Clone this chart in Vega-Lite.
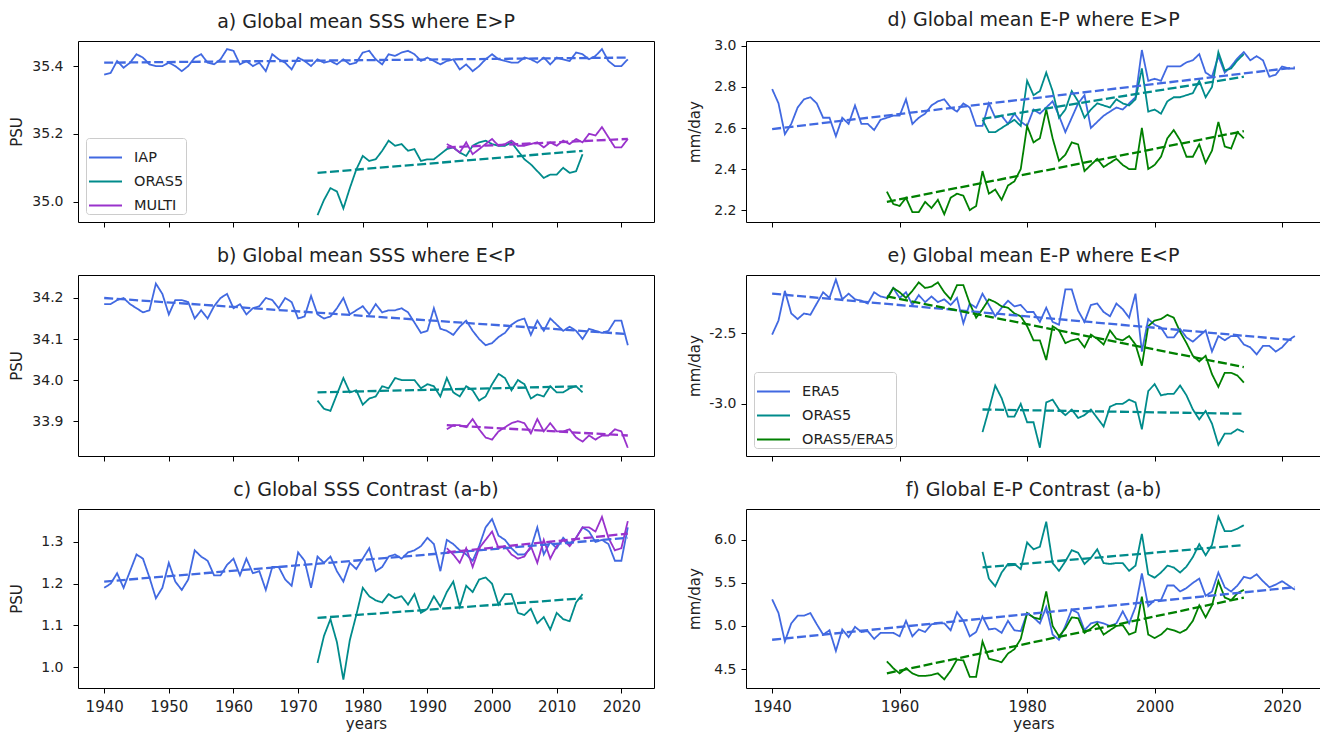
{
"$schema": "https://vega.github.io/schema/vega-lite/v6.json",
"padding": {"left": 8, "top": 10, "right": 0, "bottom": 0},
"background": "white",
"datasets": {
"a": [
{"s":"IAP","k":"o","t":1940,"v":35.375},{"s":"IAP","k":"o","t":1941,"v":35.38},{"s":"IAP","k":"o","t":1942,"v":35.415},{"s":"IAP","k":"o","t":1943,"v":35.395},{"s":"IAP","k":"o","t":1944,"v":35.41},{"s":"IAP","k":"o","t":1945,"v":35.435},{"s":"IAP","k":"o","t":1946,"v":35.425},{"s":"IAP","k":"o","t":1947,"v":35.405},{"s":"IAP","k":"o","t":1948,"v":35.40},{"s":"IAP","k":"o","t":1949,"v":35.40},
{"s":"IAP","k":"o","t":1950,"v":35.41},{"s":"IAP","k":"o","t":1951,"v":35.40},{"s":"IAP","k":"o","t":1952,"v":35.385},{"s":"IAP","k":"o","t":1953,"v":35.40},{"s":"IAP","k":"o","t":1954,"v":35.425},{"s":"IAP","k":"o","t":1955,"v":35.435},{"s":"IAP","k":"o","t":1956,"v":35.41},{"s":"IAP","k":"o","t":1957,"v":35.405},{"s":"IAP","k":"o","t":1958,"v":35.42},{"s":"IAP","k":"o","t":1959,"v":35.45},
{"s":"IAP","k":"o","t":1960,"v":35.445},{"s":"IAP","k":"o","t":1961,"v":35.405},{"s":"IAP","k":"o","t":1962,"v":35.415},{"s":"IAP","k":"o","t":1963,"v":35.40},{"s":"IAP","k":"o","t":1964,"v":35.41},{"s":"IAP","k":"o","t":1965,"v":35.385},{"s":"IAP","k":"o","t":1966,"v":35.435},{"s":"IAP","k":"o","t":1967,"v":35.42},{"s":"IAP","k":"o","t":1968,"v":35.41},{"s":"IAP","k":"o","t":1969,"v":35.39},
{"s":"IAP","k":"o","t":1970,"v":35.425},{"s":"IAP","k":"o","t":1971,"v":35.415},{"s":"IAP","k":"o","t":1972,"v":35.40},{"s":"IAP","k":"o","t":1973,"v":35.42},{"s":"IAP","k":"o","t":1974,"v":35.41},{"s":"IAP","k":"o","t":1975,"v":35.415},{"s":"IAP","k":"o","t":1976,"v":35.405},{"s":"IAP","k":"o","t":1977,"v":35.42},{"s":"IAP","k":"o","t":1978,"v":35.405},{"s":"IAP","k":"o","t":1979,"v":35.41},
{"s":"IAP","k":"o","t":1980,"v":35.44},{"s":"IAP","k":"o","t":1981,"v":35.445},{"s":"IAP","k":"o","t":1982,"v":35.42},{"s":"IAP","k":"o","t":1983,"v":35.405},{"s":"IAP","k":"o","t":1984,"v":35.435},{"s":"IAP","k":"o","t":1985,"v":35.43},{"s":"IAP","k":"o","t":1986,"v":35.44},{"s":"IAP","k":"o","t":1987,"v":35.445},{"s":"IAP","k":"o","t":1988,"v":35.435},{"s":"IAP","k":"o","t":1989,"v":35.415},
{"s":"IAP","k":"o","t":1990,"v":35.425},{"s":"IAP","k":"o","t":1991,"v":35.415},{"s":"IAP","k":"o","t":1992,"v":35.405},{"s":"IAP","k":"o","t":1993,"v":35.415},{"s":"IAP","k":"o","t":1994,"v":35.42},{"s":"IAP","k":"o","t":1995,"v":35.39},{"s":"IAP","k":"o","t":1996,"v":35.405},{"s":"IAP","k":"o","t":1997,"v":35.385},{"s":"IAP","k":"o","t":1998,"v":35.40},{"s":"IAP","k":"o","t":1999,"v":35.42},
{"s":"IAP","k":"o","t":2000,"v":35.435},{"s":"IAP","k":"o","t":2001,"v":35.42},{"s":"IAP","k":"o","t":2002,"v":35.415},{"s":"IAP","k":"o","t":2003,"v":35.41},{"s":"IAP","k":"o","t":2004,"v":35.41},{"s":"IAP","k":"o","t":2005,"v":35.425},{"s":"IAP","k":"o","t":2006,"v":35.42},{"s":"IAP","k":"o","t":2007,"v":35.41},{"s":"IAP","k":"o","t":2008,"v":35.425},{"s":"IAP","k":"o","t":2009,"v":35.405},
{"s":"IAP","k":"o","t":2010,"v":35.425},{"s":"IAP","k":"o","t":2011,"v":35.42},{"s":"IAP","k":"o","t":2012,"v":35.415},{"s":"IAP","k":"o","t":2013,"v":35.44},{"s":"IAP","k":"o","t":2014,"v":35.435},{"s":"IAP","k":"o","t":2015,"v":35.42},{"s":"IAP","k":"o","t":2016,"v":35.43},{"s":"IAP","k":"o","t":2017,"v":35.45},{"s":"IAP","k":"o","t":2018,"v":35.415},{"s":"IAP","k":"o","t":2019,"v":35.40},
{"s":"IAP","k":"o","t":2020,"v":35.40},{"s":"IAP","k":"o","t":2021,"v":35.42},
{"s":"ORAS5","k":"o","t":1973,"v":34.96},{"s":"ORAS5","k":"o","t":1974,"v":35.005},{"s":"ORAS5","k":"o","t":1975,"v":35.04},{"s":"ORAS5","k":"o","t":1976,"v":35.03},{"s":"ORAS5","k":"o","t":1977,"v":34.98},{"s":"ORAS5","k":"o","t":1978,"v":35.04},{"s":"ORAS5","k":"o","t":1979,"v":35.095},
{"s":"ORAS5","k":"o","t":1980,"v":35.135},{"s":"ORAS5","k":"o","t":1981,"v":35.12},{"s":"ORAS5","k":"o","t":1982,"v":35.125},{"s":"ORAS5","k":"o","t":1983,"v":35.15},{"s":"ORAS5","k":"o","t":1984,"v":35.18},{"s":"ORAS5","k":"o","t":1985,"v":35.165},{"s":"ORAS5","k":"o","t":1986,"v":35.17},{"s":"ORAS5","k":"o","t":1987,"v":35.15},{"s":"ORAS5","k":"o","t":1988,"v":35.155},{"s":"ORAS5","k":"o","t":1989,"v":35.12},
{"s":"ORAS5","k":"o","t":1990,"v":35.125},{"s":"ORAS5","k":"o","t":1991,"v":35.125},{"s":"ORAS5","k":"o","t":1992,"v":35.14},{"s":"ORAS5","k":"o","t":1993,"v":35.155},{"s":"ORAS5","k":"o","t":1994,"v":35.16},{"s":"ORAS5","k":"o","t":1995,"v":35.145},{"s":"ORAS5","k":"o","t":1996,"v":35.135},{"s":"ORAS5","k":"o","t":1997,"v":35.165},{"s":"ORAS5","k":"o","t":1998,"v":35.175},{"s":"ORAS5","k":"o","t":1999,"v":35.18},
{"s":"ORAS5","k":"o","t":2000,"v":35.17},{"s":"ORAS5","k":"o","t":2001,"v":35.165},{"s":"ORAS5","k":"o","t":2002,"v":35.165},{"s":"ORAS5","k":"o","t":2003,"v":35.175},{"s":"ORAS5","k":"o","t":2004,"v":35.15},{"s":"ORAS5","k":"o","t":2005,"v":35.125},{"s":"ORAS5","k":"o","t":2006,"v":35.11},{"s":"ORAS5","k":"o","t":2007,"v":35.09},{"s":"ORAS5","k":"o","t":2008,"v":35.07},{"s":"ORAS5","k":"o","t":2009,"v":35.08},
{"s":"ORAS5","k":"o","t":2010,"v":35.08},{"s":"ORAS5","k":"o","t":2011,"v":35.10},{"s":"ORAS5","k":"o","t":2012,"v":35.085},{"s":"ORAS5","k":"o","t":2013,"v":35.09},{"s":"ORAS5","k":"o","t":2014,"v":35.14},
{"s":"MULTI","k":"o","t":1993,"v":35.17},{"s":"MULTI","k":"o","t":1994,"v":35.16},{"s":"MULTI","k":"o","t":1995,"v":35.145},{"s":"MULTI","k":"o","t":1996,"v":35.175},{"s":"MULTI","k":"o","t":1997,"v":35.14},{"s":"MULTI","k":"o","t":1998,"v":35.155},{"s":"MULTI","k":"o","t":1999,"v":35.17},
{"s":"MULTI","k":"o","t":2000,"v":35.185},{"s":"MULTI","k":"o","t":2001,"v":35.165},{"s":"MULTI","k":"o","t":2002,"v":35.17},{"s":"MULTI","k":"o","t":2003,"v":35.18},{"s":"MULTI","k":"o","t":2004,"v":35.165},{"s":"MULTI","k":"o","t":2005,"v":35.165},{"s":"MULTI","k":"o","t":2006,"v":35.17},{"s":"MULTI","k":"o","t":2007,"v":35.175},{"s":"MULTI","k":"o","t":2008,"v":35.16},{"s":"MULTI","k":"o","t":2009,"v":35.175},
{"s":"MULTI","k":"o","t":2010,"v":35.165},{"s":"MULTI","k":"o","t":2011,"v":35.18},{"s":"MULTI","k":"o","t":2012,"v":35.17},{"s":"MULTI","k":"o","t":2013,"v":35.185},{"s":"MULTI","k":"o","t":2014,"v":35.175},{"s":"MULTI","k":"o","t":2015,"v":35.20},{"s":"MULTI","k":"o","t":2016,"v":35.195},{"s":"MULTI","k":"o","t":2017,"v":35.22},{"s":"MULTI","k":"o","t":2018,"v":35.19},{"s":"MULTI","k":"o","t":2019,"v":35.16},
{"s":"MULTI","k":"o","t":2020,"v":35.16},{"s":"MULTI","k":"o","t":2021,"v":35.185},
{"s":"IAP","k":"f","t":1940,"v":35.41},{"s":"IAP","k":"f","t":2021,"v":35.425},
{"s":"ORAS5","k":"f","t":1973,"v":35.085},{"s":"ORAS5","k":"f","t":2014,"v":35.15},
{"s":"MULTI","k":"f","t":1993,"v":35.16},{"s":"MULTI","k":"f","t":2021,"v":35.185}
],
"b": [
{"s":"IAP","k":"o","t":1940,"v":34.185},{"s":"IAP","k":"o","t":1941,"v":34.185},{"s":"IAP","k":"o","t":1942,"v":34.195},{"s":"IAP","k":"o","t":1943,"v":34.20},{"s":"IAP","k":"o","t":1944,"v":34.185},{"s":"IAP","k":"o","t":1945,"v":34.175},{"s":"IAP","k":"o","t":1946,"v":34.165},{"s":"IAP","k":"o","t":1947,"v":34.17},{"s":"IAP","k":"o","t":1948,"v":34.235},{"s":"IAP","k":"o","t":1949,"v":34.21},
{"s":"IAP","k":"o","t":1950,"v":34.16},{"s":"IAP","k":"o","t":1951,"v":34.195},{"s":"IAP","k":"o","t":1952,"v":34.195},{"s":"IAP","k":"o","t":1953,"v":34.19},{"s":"IAP","k":"o","t":1954,"v":34.15},{"s":"IAP","k":"o","t":1955,"v":34.17},{"s":"IAP","k":"o","t":1956,"v":34.15},{"s":"IAP","k":"o","t":1957,"v":34.18},{"s":"IAP","k":"o","t":1958,"v":34.20},{"s":"IAP","k":"o","t":1959,"v":34.21},
{"s":"IAP","k":"o","t":1960,"v":34.175},{"s":"IAP","k":"o","t":1961,"v":34.185},{"s":"IAP","k":"o","t":1962,"v":34.16},{"s":"IAP","k":"o","t":1963,"v":34.175},{"s":"IAP","k":"o","t":1964,"v":34.18},{"s":"IAP","k":"o","t":1965,"v":34.20},{"s":"IAP","k":"o","t":1966,"v":34.195},{"s":"IAP","k":"o","t":1967,"v":34.175},{"s":"IAP","k":"o","t":1968,"v":34.20},{"s":"IAP","k":"o","t":1969,"v":34.19},
{"s":"IAP","k":"o","t":1970,"v":34.15},{"s":"IAP","k":"o","t":1971,"v":34.155},{"s":"IAP","k":"o","t":1972,"v":34.205},{"s":"IAP","k":"o","t":1973,"v":34.16},{"s":"IAP","k":"o","t":1974,"v":34.15},{"s":"IAP","k":"o","t":1975,"v":34.155},{"s":"IAP","k":"o","t":1976,"v":34.175},{"s":"IAP","k":"o","t":1977,"v":34.20},{"s":"IAP","k":"o","t":1978,"v":34.16},{"s":"IAP","k":"o","t":1979,"v":34.17},
{"s":"IAP","k":"o","t":1980,"v":34.18},{"s":"IAP","k":"o","t":1981,"v":34.16},{"s":"IAP","k":"o","t":1982,"v":34.185},{"s":"IAP","k":"o","t":1983,"v":34.165},{"s":"IAP","k":"o","t":1984,"v":34.17},{"s":"IAP","k":"o","t":1985,"v":34.17},{"s":"IAP","k":"o","t":1986,"v":34.175},{"s":"IAP","k":"o","t":1987,"v":34.165},{"s":"IAP","k":"o","t":1988,"v":34.14},{"s":"IAP","k":"o","t":1989,"v":34.115},
{"s":"IAP","k":"o","t":1990,"v":34.12},{"s":"IAP","k":"o","t":1991,"v":34.175},{"s":"IAP","k":"o","t":1992,"v":34.125},{"s":"IAP","k":"o","t":1993,"v":34.12},{"s":"IAP","k":"o","t":1994,"v":34.11},{"s":"IAP","k":"o","t":1995,"v":34.13},{"s":"IAP","k":"o","t":1996,"v":34.145},{"s":"IAP","k":"o","t":1997,"v":34.12},{"s":"IAP","k":"o","t":1998,"v":34.10},{"s":"IAP","k":"o","t":1999,"v":34.085},
{"s":"IAP","k":"o","t":2000,"v":34.09},{"s":"IAP","k":"o","t":2001,"v":34.105},{"s":"IAP","k":"o","t":2002,"v":34.115},{"s":"IAP","k":"o","t":2003,"v":34.135},{"s":"IAP","k":"o","t":2004,"v":34.145},{"s":"IAP","k":"o","t":2005,"v":34.15},{"s":"IAP","k":"o","t":2006,"v":34.11},{"s":"IAP","k":"o","t":2007,"v":34.145},{"s":"IAP","k":"o","t":2008,"v":34.12},{"s":"IAP","k":"o","t":2009,"v":34.15},
{"s":"IAP","k":"o","t":2010,"v":34.135},{"s":"IAP","k":"o","t":2011,"v":34.12},{"s":"IAP","k":"o","t":2012,"v":34.13},{"s":"IAP","k":"o","t":2013,"v":34.12},{"s":"IAP","k":"o","t":2014,"v":34.10},{"s":"IAP","k":"o","t":2015,"v":34.125},{"s":"IAP","k":"o","t":2016,"v":34.12},{"s":"IAP","k":"o","t":2017,"v":34.115},{"s":"IAP","k":"o","t":2018,"v":34.12},{"s":"IAP","k":"o","t":2019,"v":34.145},
{"s":"IAP","k":"o","t":2020,"v":34.145},{"s":"IAP","k":"o","t":2021,"v":34.085},
{"s":"ORAS5","k":"o","t":1973,"v":33.95},{"s":"ORAS5","k":"o","t":1974,"v":33.93},{"s":"ORAS5","k":"o","t":1975,"v":33.925},{"s":"ORAS5","k":"o","t":1976,"v":33.965},{"s":"ORAS5","k":"o","t":1977,"v":34.005},{"s":"ORAS5","k":"o","t":1978,"v":33.97},{"s":"ORAS5","k":"o","t":1979,"v":33.975},
{"s":"ORAS5","k":"o","t":1980,"v":33.94},{"s":"ORAS5","k":"o","t":1981,"v":33.955},{"s":"ORAS5","k":"o","t":1982,"v":33.96},{"s":"ORAS5","k":"o","t":1983,"v":33.985},{"s":"ORAS5","k":"o","t":1984,"v":33.98},{"s":"ORAS5","k":"o","t":1985,"v":34.005},{"s":"ORAS5","k":"o","t":1986,"v":34.00},{"s":"ORAS5","k":"o","t":1987,"v":34.00},{"s":"ORAS5","k":"o","t":1988,"v":34.00},{"s":"ORAS5","k":"o","t":1989,"v":33.98},
{"s":"ORAS5","k":"o","t":1990,"v":33.99},{"s":"ORAS5","k":"o","t":1991,"v":33.985},{"s":"ORAS5","k":"o","t":1992,"v":33.96},{"s":"ORAS5","k":"o","t":1993,"v":34.005},{"s":"ORAS5","k":"o","t":1994,"v":33.97},{"s":"ORAS5","k":"o","t":1995,"v":33.96},{"s":"ORAS5","k":"o","t":1996,"v":33.985},{"s":"ORAS5","k":"o","t":1997,"v":33.975},{"s":"ORAS5","k":"o","t":1998,"v":33.95},{"s":"ORAS5","k":"o","t":1999,"v":33.96},
{"s":"ORAS5","k":"o","t":2000,"v":33.99},{"s":"ORAS5","k":"o","t":2001,"v":34.015},{"s":"ORAS5","k":"o","t":2002,"v":34.005},{"s":"ORAS5","k":"o","t":2003,"v":33.975},{"s":"ORAS5","k":"o","t":2004,"v":34.00},{"s":"ORAS5","k":"o","t":2005,"v":33.99},{"s":"ORAS5","k":"o","t":2006,"v":33.955},{"s":"ORAS5","k":"o","t":2007,"v":33.965},{"s":"ORAS5","k":"o","t":2008,"v":33.96},{"s":"ORAS5","k":"o","t":2009,"v":33.985},
{"s":"ORAS5","k":"o","t":2010,"v":33.97},{"s":"ORAS5","k":"o","t":2011,"v":33.97},{"s":"ORAS5","k":"o","t":2012,"v":33.98},{"s":"ORAS5","k":"o","t":2013,"v":33.985},{"s":"ORAS5","k":"o","t":2014,"v":33.97},
{"s":"MULTI","k":"o","t":1993,"v":33.88},{"s":"MULTI","k":"o","t":1994,"v":33.89},{"s":"MULTI","k":"o","t":1995,"v":33.89},{"s":"MULTI","k":"o","t":1996,"v":33.885},{"s":"MULTI","k":"o","t":1997,"v":33.905},{"s":"MULTI","k":"o","t":1998,"v":33.88},{"s":"MULTI","k":"o","t":1999,"v":33.86},
{"s":"MULTI","k":"o","t":2000,"v":33.855},{"s":"MULTI","k":"o","t":2001,"v":33.875},{"s":"MULTI","k":"o","t":2002,"v":33.885},{"s":"MULTI","k":"o","t":2003,"v":33.895},{"s":"MULTI","k":"o","t":2004,"v":33.90},{"s":"MULTI","k":"o","t":2005,"v":33.895},{"s":"MULTI","k":"o","t":2006,"v":33.87},{"s":"MULTI","k":"o","t":2007,"v":33.905},{"s":"MULTI","k":"o","t":2008,"v":33.875},{"s":"MULTI","k":"o","t":2009,"v":33.895},
{"s":"MULTI","k":"o","t":2010,"v":33.875},{"s":"MULTI","k":"o","t":2011,"v":33.875},{"s":"MULTI","k":"o","t":2012,"v":33.88},{"s":"MULTI","k":"o","t":2013,"v":33.86},{"s":"MULTI","k":"o","t":2014,"v":33.85},{"s":"MULTI","k":"o","t":2015,"v":33.865},{"s":"MULTI","k":"o","t":2016,"v":33.855},{"s":"MULTI","k":"o","t":2017,"v":33.865},{"s":"MULTI","k":"o","t":2018,"v":33.865},{"s":"MULTI","k":"o","t":2019,"v":33.88},
{"s":"MULTI","k":"o","t":2020,"v":33.875},{"s":"MULTI","k":"o","t":2021,"v":33.835},
{"s":"IAP","k":"f","t":1940,"v":34.20},{"s":"IAP","k":"f","t":2021,"v":34.112},
{"s":"ORAS5","k":"f","t":1973,"v":33.97},{"s":"ORAS5","k":"f","t":2014,"v":33.985},
{"s":"MULTI","k":"f","t":1993,"v":33.89},{"s":"MULTI","k":"f","t":2021,"v":33.865}
],
"c": [
{"s":"IAP","k":"o","t":1940,"v":1.19},{"s":"IAP","k":"o","t":1941,"v":1.20},{"s":"IAP","k":"o","t":1942,"v":1.225},{"s":"IAP","k":"o","t":1943,"v":1.19},{"s":"IAP","k":"o","t":1944,"v":1.23},{"s":"IAP","k":"o","t":1945,"v":1.27},{"s":"IAP","k":"o","t":1946,"v":1.26},{"s":"IAP","k":"o","t":1947,"v":1.215},{"s":"IAP","k":"o","t":1948,"v":1.165},{"s":"IAP","k":"o","t":1949,"v":1.19},
{"s":"IAP","k":"o","t":1950,"v":1.25},{"s":"IAP","k":"o","t":1951,"v":1.205},{"s":"IAP","k":"o","t":1952,"v":1.185},{"s":"IAP","k":"o","t":1953,"v":1.21},{"s":"IAP","k":"o","t":1954,"v":1.28},{"s":"IAP","k":"o","t":1955,"v":1.265},{"s":"IAP","k":"o","t":1956,"v":1.255},{"s":"IAP","k":"o","t":1957,"v":1.22},{"s":"IAP","k":"o","t":1958,"v":1.22},{"s":"IAP","k":"o","t":1959,"v":1.245},
{"s":"IAP","k":"o","t":1960,"v":1.26},{"s":"IAP","k":"o","t":1961,"v":1.22},{"s":"IAP","k":"o","t":1962,"v":1.26},{"s":"IAP","k":"o","t":1963,"v":1.225},{"s":"IAP","k":"o","t":1964,"v":1.23},{"s":"IAP","k":"o","t":1965,"v":1.185},{"s":"IAP","k":"o","t":1966,"v":1.24},{"s":"IAP","k":"o","t":1967,"v":1.24},{"s":"IAP","k":"o","t":1968,"v":1.21},{"s":"IAP","k":"o","t":1969,"v":1.195},
{"s":"IAP","k":"o","t":1970,"v":1.275},{"s":"IAP","k":"o","t":1971,"v":1.255},{"s":"IAP","k":"o","t":1972,"v":1.19},{"s":"IAP","k":"o","t":1973,"v":1.265},{"s":"IAP","k":"o","t":1974,"v":1.25},{"s":"IAP","k":"o","t":1975,"v":1.265},{"s":"IAP","k":"o","t":1976,"v":1.23},{"s":"IAP","k":"o","t":1977,"v":1.205},{"s":"IAP","k":"o","t":1978,"v":1.25},{"s":"IAP","k":"o","t":1979,"v":1.235},
{"s":"IAP","k":"o","t":1980,"v":1.26},{"s":"IAP","k":"o","t":1981,"v":1.285},{"s":"IAP","k":"o","t":1982,"v":1.23},{"s":"IAP","k":"o","t":1983,"v":1.24},{"s":"IAP","k":"o","t":1984,"v":1.265},{"s":"IAP","k":"o","t":1985,"v":1.27},{"s":"IAP","k":"o","t":1986,"v":1.26},{"s":"IAP","k":"o","t":1987,"v":1.275},{"s":"IAP","k":"o","t":1988,"v":1.28},{"s":"IAP","k":"o","t":1989,"v":1.29},
{"s":"IAP","k":"o","t":1990,"v":1.31},{"s":"IAP","k":"o","t":1991,"v":1.295},{"s":"IAP","k":"o","t":1992,"v":1.23},{"s":"IAP","k":"o","t":1993,"v":1.305},{"s":"IAP","k":"o","t":1994,"v":1.295},{"s":"IAP","k":"o","t":1995,"v":1.28},{"s":"IAP","k":"o","t":1996,"v":1.27},{"s":"IAP","k":"o","t":1997,"v":1.255},{"s":"IAP","k":"o","t":1998,"v":1.29},{"s":"IAP","k":"o","t":1999,"v":1.335},
{"s":"IAP","k":"o","t":2000,"v":1.355},{"s":"IAP","k":"o","t":2001,"v":1.315},{"s":"IAP","k":"o","t":2002,"v":1.305},{"s":"IAP","k":"o","t":2003,"v":1.285},{"s":"IAP","k":"o","t":2004,"v":1.27},{"s":"IAP","k":"o","t":2005,"v":1.27},{"s":"IAP","k":"o","t":2006,"v":1.285},{"s":"IAP","k":"o","t":2007,"v":1.335},{"s":"IAP","k":"o","t":2008,"v":1.27},{"s":"IAP","k":"o","t":2009,"v":1.30},
{"s":"IAP","k":"o","t":2010,"v":1.285},{"s":"IAP","k":"o","t":2011,"v":1.31},{"s":"IAP","k":"o","t":2012,"v":1.295},{"s":"IAP","k":"o","t":2013,"v":1.31},{"s":"IAP","k":"o","t":2014,"v":1.335},{"s":"IAP","k":"o","t":2015,"v":1.325},{"s":"IAP","k":"o","t":2016,"v":1.30},{"s":"IAP","k":"o","t":2017,"v":1.305},{"s":"IAP","k":"o","t":2018,"v":1.295},{"s":"IAP","k":"o","t":2019,"v":1.255},
{"s":"IAP","k":"o","t":2020,"v":1.255},{"s":"IAP","k":"o","t":2021,"v":1.335},
{"s":"ORAS5","k":"o","t":1973,"v":1.01},{"s":"ORAS5","k":"o","t":1974,"v":1.075},{"s":"ORAS5","k":"o","t":1975,"v":1.115},{"s":"ORAS5","k":"o","t":1976,"v":1.06},{"s":"ORAS5","k":"o","t":1977,"v":0.97},{"s":"ORAS5","k":"o","t":1978,"v":1.065},{"s":"ORAS5","k":"o","t":1979,"v":1.125},
{"s":"ORAS5","k":"o","t":1980,"v":1.19},{"s":"ORAS5","k":"o","t":1981,"v":1.17},{"s":"ORAS5","k":"o","t":1982,"v":1.16},{"s":"ORAS5","k":"o","t":1983,"v":1.155},{"s":"ORAS5","k":"o","t":1984,"v":1.175},{"s":"ORAS5","k":"o","t":1985,"v":1.165},{"s":"ORAS5","k":"o","t":1986,"v":1.17},{"s":"ORAS5","k":"o","t":1987,"v":1.15},{"s":"ORAS5","k":"o","t":1988,"v":1.175},{"s":"ORAS5","k":"o","t":1989,"v":1.13},
{"s":"ORAS5","k":"o","t":1990,"v":1.14},{"s":"ORAS5","k":"o","t":1991,"v":1.17},{"s":"ORAS5","k":"o","t":1992,"v":1.145},{"s":"ORAS5","k":"o","t":1993,"v":1.18},{"s":"ORAS5","k":"o","t":1994,"v":1.205},{"s":"ORAS5","k":"o","t":1995,"v":1.145},{"s":"ORAS5","k":"o","t":1996,"v":1.195},{"s":"ORAS5","k":"o","t":1997,"v":1.18},{"s":"ORAS5","k":"o","t":1998,"v":1.21},{"s":"ORAS5","k":"o","t":1999,"v":1.215},
{"s":"ORAS5","k":"o","t":2000,"v":1.20},{"s":"ORAS5","k":"o","t":2001,"v":1.15},{"s":"ORAS5","k":"o","t":2002,"v":1.175},{"s":"ORAS5","k":"o","t":2003,"v":1.175},{"s":"ORAS5","k":"o","t":2004,"v":1.13},{"s":"ORAS5","k":"o","t":2005,"v":1.125},{"s":"ORAS5","k":"o","t":2006,"v":1.14},{"s":"ORAS5","k":"o","t":2007,"v":1.105},{"s":"ORAS5","k":"o","t":2008,"v":1.12},{"s":"ORAS5","k":"o","t":2009,"v":1.09},
{"s":"ORAS5","k":"o","t":2010,"v":1.13},{"s":"ORAS5","k":"o","t":2011,"v":1.115},{"s":"ORAS5","k":"o","t":2012,"v":1.11},{"s":"ORAS5","k":"o","t":2013,"v":1.155},{"s":"ORAS5","k":"o","t":2014,"v":1.175},
{"s":"MULTI","k":"o","t":1993,"v":1.285},{"s":"MULTI","k":"o","t":1994,"v":1.27},{"s":"MULTI","k":"o","t":1995,"v":1.25},{"s":"MULTI","k":"o","t":1996,"v":1.285},{"s":"MULTI","k":"o","t":1997,"v":1.24},{"s":"MULTI","k":"o","t":1998,"v":1.285},{"s":"MULTI","k":"o","t":1999,"v":1.305},
{"s":"MULTI","k":"o","t":2000,"v":1.325},{"s":"MULTI","k":"o","t":2001,"v":1.285},{"s":"MULTI","k":"o","t":2002,"v":1.29},{"s":"MULTI","k":"o","t":2003,"v":1.27},{"s":"MULTI","k":"o","t":2004,"v":1.26},{"s":"MULTI","k":"o","t":2005,"v":1.265},{"s":"MULTI","k":"o","t":2006,"v":1.29},{"s":"MULTI","k":"o","t":2007,"v":1.25},{"s":"MULTI","k":"o","t":2008,"v":1.305},{"s":"MULTI","k":"o","t":2009,"v":1.26},
{"s":"MULTI","k":"o","t":2010,"v":1.29},{"s":"MULTI","k":"o","t":2011,"v":1.305},{"s":"MULTI","k":"o","t":2012,"v":1.29},{"s":"MULTI","k":"o","t":2013,"v":1.31},{"s":"MULTI","k":"o","t":2014,"v":1.335},{"s":"MULTI","k":"o","t":2015,"v":1.335},{"s":"MULTI","k":"o","t":2016,"v":1.325},{"s":"MULTI","k":"o","t":2017,"v":1.36},{"s":"MULTI","k":"o","t":2018,"v":1.31},{"s":"MULTI","k":"o","t":2019,"v":1.28},
{"s":"MULTI","k":"o","t":2020,"v":1.285},{"s":"MULTI","k":"o","t":2021,"v":1.35},
{"s":"IAP","k":"f","t":1940,"v":1.205},{"s":"IAP","k":"f","t":2021,"v":1.31},
{"s":"ORAS5","k":"f","t":1973,"v":1.118},{"s":"ORAS5","k":"f","t":2014,"v":1.165},
{"s":"MULTI","k":"f","t":1993,"v":1.275},{"s":"MULTI","k":"f","t":2021,"v":1.32}
],
"d": [
{"s":"ERA5","k":"o","t":1940,"v":2.79},{"s":"ERA5","k":"o","t":1941,"v":2.72},{"s":"ERA5","k":"o","t":1942,"v":2.57},{"s":"ERA5","k":"o","t":1943,"v":2.62},{"s":"ERA5","k":"o","t":1944,"v":2.70},{"s":"ERA5","k":"o","t":1945,"v":2.74},{"s":"ERA5","k":"o","t":1946,"v":2.75},{"s":"ERA5","k":"o","t":1947,"v":2.72},{"s":"ERA5","k":"o","t":1948,"v":2.65},{"s":"ERA5","k":"o","t":1949,"v":2.65},
{"s":"ERA5","k":"o","t":1950,"v":2.56},{"s":"ERA5","k":"o","t":1951,"v":2.65},{"s":"ERA5","k":"o","t":1952,"v":2.62},{"s":"ERA5","k":"o","t":1953,"v":2.71},{"s":"ERA5","k":"o","t":1954,"v":2.62},{"s":"ERA5","k":"o","t":1955,"v":2.62},{"s":"ERA5","k":"o","t":1956,"v":2.59},{"s":"ERA5","k":"o","t":1957,"v":2.64},{"s":"ERA5","k":"o","t":1958,"v":2.65},{"s":"ERA5","k":"o","t":1959,"v":2.66},
{"s":"ERA5","k":"o","t":1960,"v":2.66},{"s":"ERA5","k":"o","t":1961,"v":2.74},{"s":"ERA5","k":"o","t":1962,"v":2.62},{"s":"ERA5","k":"o","t":1963,"v":2.65},{"s":"ERA5","k":"o","t":1964,"v":2.67},{"s":"ERA5","k":"o","t":1965,"v":2.71},{"s":"ERA5","k":"o","t":1966,"v":2.73},{"s":"ERA5","k":"o","t":1967,"v":2.74},{"s":"ERA5","k":"o","t":1968,"v":2.70},{"s":"ERA5","k":"o","t":1969,"v":2.68},
{"s":"ERA5","k":"o","t":1970,"v":2.72},{"s":"ERA5","k":"o","t":1971,"v":2.70},{"s":"ERA5","k":"o","t":1972,"v":2.61},{"s":"ERA5","k":"o","t":1973,"v":2.61},{"s":"ERA5","k":"o","t":1974,"v":2.72},{"s":"ERA5","k":"o","t":1975,"v":2.65},{"s":"ERA5","k":"o","t":1976,"v":2.66},{"s":"ERA5","k":"o","t":1977,"v":2.62},{"s":"ERA5","k":"o","t":1978,"v":2.67},{"s":"ERA5","k":"o","t":1979,"v":2.63},
{"s":"ERA5","k":"o","t":1980,"v":2.61},{"s":"ERA5","k":"o","t":1981,"v":2.69},{"s":"ERA5","k":"o","t":1982,"v":2.67},{"s":"ERA5","k":"o","t":1983,"v":2.70},{"s":"ERA5","k":"o","t":1984,"v":2.73},{"s":"ERA5","k":"o","t":1985,"v":2.66},{"s":"ERA5","k":"o","t":1986,"v":2.58},{"s":"ERA5","k":"o","t":1987,"v":2.65},{"s":"ERA5","k":"o","t":1988,"v":2.72},{"s":"ERA5","k":"o","t":1989,"v":2.76},
{"s":"ERA5","k":"o","t":1990,"v":2.60},{"s":"ERA5","k":"o","t":1991,"v":2.63},{"s":"ERA5","k":"o","t":1992,"v":2.66},{"s":"ERA5","k":"o","t":1993,"v":2.68},{"s":"ERA5","k":"o","t":1994,"v":2.70},{"s":"ERA5","k":"o","t":1995,"v":2.69},{"s":"ERA5","k":"o","t":1996,"v":2.72},{"s":"ERA5","k":"o","t":1997,"v":2.75},{"s":"ERA5","k":"o","t":1998,"v":2.98},{"s":"ERA5","k":"o","t":1999,"v":2.83},
{"s":"ERA5","k":"o","t":2000,"v":2.84},{"s":"ERA5","k":"o","t":2001,"v":2.83},{"s":"ERA5","k":"o","t":2002,"v":2.90},{"s":"ERA5","k":"o","t":2003,"v":2.90},{"s":"ERA5","k":"o","t":2004,"v":2.90},{"s":"ERA5","k":"o","t":2005,"v":2.92},{"s":"ERA5","k":"o","t":2006,"v":2.93},{"s":"ERA5","k":"o","t":2007,"v":2.96},{"s":"ERA5","k":"o","t":2008,"v":2.87},{"s":"ERA5","k":"o","t":2009,"v":2.85},
{"s":"ERA5","k":"o","t":2010,"v":2.95},{"s":"ERA5","k":"o","t":2011,"v":2.87},{"s":"ERA5","k":"o","t":2012,"v":2.90},{"s":"ERA5","k":"o","t":2013,"v":2.94},{"s":"ERA5","k":"o","t":2014,"v":2.97},{"s":"ERA5","k":"o","t":2015,"v":2.93},{"s":"ERA5","k":"o","t":2016,"v":2.95},{"s":"ERA5","k":"o","t":2017,"v":2.93},{"s":"ERA5","k":"o","t":2018,"v":2.85},{"s":"ERA5","k":"o","t":2019,"v":2.86},
{"s":"ERA5","k":"o","t":2020,"v":2.90},{"s":"ERA5","k":"o","t":2021,"v":2.89},{"s":"ERA5","k":"o","t":2022,"v":2.89},
{"s":"ORAS5","k":"o","t":1973,"v":2.64},{"s":"ORAS5","k":"o","t":1974,"v":2.58},{"s":"ORAS5","k":"o","t":1975,"v":2.58},{"s":"ORAS5","k":"o","t":1976,"v":2.60},{"s":"ORAS5","k":"o","t":1977,"v":2.62},{"s":"ORAS5","k":"o","t":1978,"v":2.64},{"s":"ORAS5","k":"o","t":1979,"v":2.61},
{"s":"ORAS5","k":"o","t":1980,"v":2.83},{"s":"ORAS5","k":"o","t":1981,"v":2.76},{"s":"ORAS5","k":"o","t":1982,"v":2.78},{"s":"ORAS5","k":"o","t":1983,"v":2.87},{"s":"ORAS5","k":"o","t":1984,"v":2.78},{"s":"ORAS5","k":"o","t":1985,"v":2.65},{"s":"ORAS5","k":"o","t":1986,"v":2.69},{"s":"ORAS5","k":"o","t":1987,"v":2.78},{"s":"ORAS5","k":"o","t":1988,"v":2.73},{"s":"ORAS5","k":"o","t":1989,"v":2.65},
{"s":"ORAS5","k":"o","t":1990,"v":2.69},{"s":"ORAS5","k":"o","t":1991,"v":2.72},{"s":"ORAS5","k":"o","t":1992,"v":2.71},{"s":"ORAS5","k":"o","t":1993,"v":2.70},{"s":"ORAS5","k":"o","t":1994,"v":2.74},{"s":"ORAS5","k":"o","t":1995,"v":2.72},{"s":"ORAS5","k":"o","t":1996,"v":2.71},{"s":"ORAS5","k":"o","t":1997,"v":2.74},{"s":"ORAS5","k":"o","t":1998,"v":2.89},{"s":"ORAS5","k":"o","t":1999,"v":2.68},
{"s":"ORAS5","k":"o","t":2000,"v":2.69},{"s":"ORAS5","k":"o","t":2001,"v":2.67},{"s":"ORAS5","k":"o","t":2002,"v":2.73},{"s":"ORAS5","k":"o","t":2003,"v":2.75},{"s":"ORAS5","k":"o","t":2004,"v":2.75},{"s":"ORAS5","k":"o","t":2005,"v":2.76},{"s":"ORAS5","k":"o","t":2006,"v":2.77},{"s":"ORAS5","k":"o","t":2007,"v":2.83},{"s":"ORAS5","k":"o","t":2008,"v":2.75},{"s":"ORAS5","k":"o","t":2009,"v":2.80},
{"s":"ORAS5","k":"o","t":2010,"v":2.97},{"s":"ORAS5","k":"o","t":2011,"v":2.88},{"s":"ORAS5","k":"o","t":2012,"v":2.89},{"s":"ORAS5","k":"o","t":2013,"v":2.93},{"s":"ORAS5","k":"o","t":2014,"v":2.96},
{"s":"ORAS5/ERA5","k":"o","t":1958,"v":2.29},{"s":"ORAS5/ERA5","k":"o","t":1959,"v":2.23},
{"s":"ORAS5/ERA5","k":"o","t":1960,"v":2.22},{"s":"ORAS5/ERA5","k":"o","t":1961,"v":2.26},{"s":"ORAS5/ERA5","k":"o","t":1962,"v":2.19},{"s":"ORAS5/ERA5","k":"o","t":1963,"v":2.19},{"s":"ORAS5/ERA5","k":"o","t":1964,"v":2.24},{"s":"ORAS5/ERA5","k":"o","t":1965,"v":2.21},{"s":"ORAS5/ERA5","k":"o","t":1966,"v":2.25},{"s":"ORAS5/ERA5","k":"o","t":1967,"v":2.18},{"s":"ORAS5/ERA5","k":"o","t":1968,"v":2.26},{"s":"ORAS5/ERA5","k":"o","t":1969,"v":2.28},
{"s":"ORAS5/ERA5","k":"o","t":1970,"v":2.27},{"s":"ORAS5/ERA5","k":"o","t":1971,"v":2.20},{"s":"ORAS5/ERA5","k":"o","t":1972,"v":2.22},{"s":"ORAS5/ERA5","k":"o","t":1973,"v":2.39},{"s":"ORAS5/ERA5","k":"o","t":1974,"v":2.28},{"s":"ORAS5/ERA5","k":"o","t":1975,"v":2.30},{"s":"ORAS5/ERA5","k":"o","t":1976,"v":2.25},{"s":"ORAS5/ERA5","k":"o","t":1977,"v":2.32},{"s":"ORAS5/ERA5","k":"o","t":1978,"v":2.34},{"s":"ORAS5/ERA5","k":"o","t":1979,"v":2.40},
{"s":"ORAS5/ERA5","k":"o","t":1980,"v":2.61},{"s":"ORAS5/ERA5","k":"o","t":1981,"v":2.53},{"s":"ORAS5/ERA5","k":"o","t":1982,"v":2.55},{"s":"ORAS5/ERA5","k":"o","t":1983,"v":2.69},{"s":"ORAS5/ERA5","k":"o","t":1984,"v":2.55},{"s":"ORAS5/ERA5","k":"o","t":1985,"v":2.44},{"s":"ORAS5/ERA5","k":"o","t":1986,"v":2.47},{"s":"ORAS5/ERA5","k":"o","t":1987,"v":2.53},{"s":"ORAS5/ERA5","k":"o","t":1988,"v":2.52},{"s":"ORAS5/ERA5","k":"o","t":1989,"v":2.39},
{"s":"ORAS5/ERA5","k":"o","t":1990,"v":2.42},{"s":"ORAS5/ERA5","k":"o","t":1991,"v":2.45},{"s":"ORAS5/ERA5","k":"o","t":1992,"v":2.41},{"s":"ORAS5/ERA5","k":"o","t":1993,"v":2.43},{"s":"ORAS5/ERA5","k":"o","t":1994,"v":2.45},{"s":"ORAS5/ERA5","k":"o","t":1995,"v":2.42},{"s":"ORAS5/ERA5","k":"o","t":1996,"v":2.40},{"s":"ORAS5/ERA5","k":"o","t":1997,"v":2.40},{"s":"ORAS5/ERA5","k":"o","t":1998,"v":2.60},{"s":"ORAS5/ERA5","k":"o","t":1999,"v":2.40},
{"s":"ORAS5/ERA5","k":"o","t":2000,"v":2.42},{"s":"ORAS5/ERA5","k":"o","t":2001,"v":2.46},{"s":"ORAS5/ERA5","k":"o","t":2002,"v":2.55},{"s":"ORAS5/ERA5","k":"o","t":2003,"v":2.59},{"s":"ORAS5/ERA5","k":"o","t":2004,"v":2.54},{"s":"ORAS5/ERA5","k":"o","t":2005,"v":2.46},{"s":"ORAS5/ERA5","k":"o","t":2006,"v":2.46},{"s":"ORAS5/ERA5","k":"o","t":2007,"v":2.52},{"s":"ORAS5/ERA5","k":"o","t":2008,"v":2.43},{"s":"ORAS5/ERA5","k":"o","t":2009,"v":2.49},
{"s":"ORAS5/ERA5","k":"o","t":2010,"v":2.63},{"s":"ORAS5/ERA5","k":"o","t":2011,"v":2.51},{"s":"ORAS5/ERA5","k":"o","t":2012,"v":2.50},{"s":"ORAS5/ERA5","k":"o","t":2013,"v":2.58},{"s":"ORAS5/ERA5","k":"o","t":2014,"v":2.55},
{"s":"ERA5","k":"f","t":1940,"v":2.595},{"s":"ERA5","k":"f","t":2022,"v":2.895},
{"s":"ORAS5","k":"f","t":1973,"v":2.645},{"s":"ORAS5","k":"f","t":2014,"v":2.85},
{"s":"ORAS5/ERA5","k":"f","t":1958,"v":2.24},{"s":"ORAS5/ERA5","k":"f","t":2014,"v":2.585}
],
"e": [
{"s":"ERA5","k":"o","t":1940,"v":-2.51},{"s":"ERA5","k":"o","t":1941,"v":-2.41},{"s":"ERA5","k":"o","t":1942,"v":-2.20},{"s":"ERA5","k":"o","t":1943,"v":-2.36},{"s":"ERA5","k":"o","t":1944,"v":-2.40},{"s":"ERA5","k":"o","t":1945,"v":-2.36},{"s":"ERA5","k":"o","t":1946,"v":-2.37},{"s":"ERA5","k":"o","t":1947,"v":-2.29},{"s":"ERA5","k":"o","t":1948,"v":-2.21},{"s":"ERA5","k":"o","t":1949,"v":-2.25},
{"s":"ERA5","k":"o","t":1950,"v":-2.12},{"s":"ERA5","k":"o","t":1951,"v":-2.26},{"s":"ERA5","k":"o","t":1952,"v":-2.22},{"s":"ERA5","k":"o","t":1953,"v":-2.26},{"s":"ERA5","k":"o","t":1954,"v":-2.27},{"s":"ERA5","k":"o","t":1955,"v":-2.29},{"s":"ERA5","k":"o","t":1956,"v":-2.21},{"s":"ERA5","k":"o","t":1957,"v":-2.24},{"s":"ERA5","k":"o","t":1958,"v":-2.25},{"s":"ERA5","k":"o","t":1959,"v":-2.18},
{"s":"ERA5","k":"o","t":1960,"v":-2.25},{"s":"ERA5","k":"o","t":1961,"v":-2.21},{"s":"ERA5","k":"o","t":1962,"v":-2.30},{"s":"ERA5","k":"o","t":1963,"v":-2.23},{"s":"ERA5","k":"o","t":1964,"v":-2.28},{"s":"ERA5","k":"o","t":1965,"v":-2.24},{"s":"ERA5","k":"o","t":1966,"v":-2.28},{"s":"ERA5","k":"o","t":1967,"v":-2.26},{"s":"ERA5","k":"o","t":1968,"v":-2.30},{"s":"ERA5","k":"o","t":1969,"v":-2.25},
{"s":"ERA5","k":"o","t":1970,"v":-2.43},{"s":"ERA5","k":"o","t":1971,"v":-2.29},{"s":"ERA5","k":"o","t":1972,"v":-2.32},{"s":"ERA5","k":"o","t":1973,"v":-2.22},{"s":"ERA5","k":"o","t":1974,"v":-2.30},{"s":"ERA5","k":"o","t":1975,"v":-2.38},{"s":"ERA5","k":"o","t":1976,"v":-2.32},{"s":"ERA5","k":"o","t":1977,"v":-2.27},{"s":"ERA5","k":"o","t":1978,"v":-2.31},{"s":"ERA5","k":"o","t":1979,"v":-2.30},
{"s":"ERA5","k":"o","t":1980,"v":-2.35},{"s":"ERA5","k":"o","t":1981,"v":-2.35},{"s":"ERA5","k":"o","t":1982,"v":-2.42},{"s":"ERA5","k":"o","t":1983,"v":-2.32},{"s":"ERA5","k":"o","t":1984,"v":-2.42},{"s":"ERA5","k":"o","t":1985,"v":-2.44},{"s":"ERA5","k":"o","t":1986,"v":-2.19},{"s":"ERA5","k":"o","t":1987,"v":-2.19},{"s":"ERA5","k":"o","t":1988,"v":-2.34},{"s":"ERA5","k":"o","t":1989,"v":-2.42},
{"s":"ERA5","k":"o","t":1990,"v":-2.30},{"s":"ERA5","k":"o","t":1991,"v":-2.29},{"s":"ERA5","k":"o","t":1992,"v":-2.35},{"s":"ERA5","k":"o","t":1993,"v":-2.38},{"s":"ERA5","k":"o","t":1994,"v":-2.29},{"s":"ERA5","k":"o","t":1995,"v":-2.33},{"s":"ERA5","k":"o","t":1996,"v":-2.39},{"s":"ERA5","k":"o","t":1997,"v":-2.22},{"s":"ERA5","k":"o","t":1998,"v":-2.63},{"s":"ERA5","k":"o","t":1999,"v":-2.40},
{"s":"ERA5","k":"o","t":2000,"v":-2.44},{"s":"ERA5","k":"o","t":2001,"v":-2.46},{"s":"ERA5","k":"o","t":2002,"v":-2.53},{"s":"ERA5","k":"o","t":2003,"v":-2.53},{"s":"ERA5","k":"o","t":2004,"v":-2.47},{"s":"ERA5","k":"o","t":2005,"v":-2.53},{"s":"ERA5","k":"o","t":2006,"v":-2.56},{"s":"ERA5","k":"o","t":2007,"v":-2.52},{"s":"ERA5","k":"o","t":2008,"v":-2.48},{"s":"ERA5","k":"o","t":2009,"v":-2.63},
{"s":"ERA5","k":"o","t":2010,"v":-2.52},{"s":"ERA5","k":"o","t":2011,"v":-2.55},{"s":"ERA5","k":"o","t":2012,"v":-2.52},{"s":"ERA5","k":"o","t":2013,"v":-2.52},{"s":"ERA5","k":"o","t":2014,"v":-2.58},{"s":"ERA5","k":"o","t":2015,"v":-2.60},{"s":"ERA5","k":"o","t":2016,"v":-2.65},{"s":"ERA5","k":"o","t":2017,"v":-2.59},{"s":"ERA5","k":"o","t":2018,"v":-2.59},{"s":"ERA5","k":"o","t":2019,"v":-2.63},
{"s":"ERA5","k":"o","t":2020,"v":-2.60},{"s":"ERA5","k":"o","t":2021,"v":-2.55},{"s":"ERA5","k":"o","t":2022,"v":-2.52},
{"s":"ORAS5","k":"o","t":1973,"v":-3.20},{"s":"ORAS5","k":"o","t":1974,"v":-3.04},{"s":"ORAS5","k":"o","t":1975,"v":-2.87},{"s":"ORAS5","k":"o","t":1976,"v":-2.96},{"s":"ORAS5","k":"o","t":1977,"v":-3.09},{"s":"ORAS5","k":"o","t":1978,"v":-3.09},{"s":"ORAS5","k":"o","t":1979,"v":-3.00},
{"s":"ORAS5","k":"o","t":1980,"v":-3.13},{"s":"ORAS5","k":"o","t":1981,"v":-3.13},{"s":"ORAS5","k":"o","t":1982,"v":-3.31},{"s":"ORAS5","k":"o","t":1983,"v":-2.99},{"s":"ORAS5","k":"o","t":1984,"v":-2.97},{"s":"ORAS5","k":"o","t":1985,"v":-3.04},{"s":"ORAS5","k":"o","t":1986,"v":-3.08},{"s":"ORAS5","k":"o","t":1987,"v":-3.04},{"s":"ORAS5","k":"o","t":1988,"v":-3.10},{"s":"ORAS5","k":"o","t":1989,"v":-3.08},
{"s":"ORAS5","k":"o","t":1990,"v":-3.04},{"s":"ORAS5","k":"o","t":1991,"v":-3.10},{"s":"ORAS5","k":"o","t":1992,"v":-3.16},{"s":"ORAS5","k":"o","t":1993,"v":-3.02},{"s":"ORAS5","k":"o","t":1994,"v":-3.00},{"s":"ORAS5","k":"o","t":1995,"v":-3.00},{"s":"ORAS5","k":"o","t":1996,"v":-2.97},{"s":"ORAS5","k":"o","t":1997,"v":-2.99},{"s":"ORAS5","k":"o","t":1998,"v":-3.18},{"s":"ORAS5","k":"o","t":1999,"v":-2.91},
{"s":"ORAS5","k":"o","t":2000,"v":-2.86},{"s":"ORAS5","k":"o","t":2001,"v":-2.94},{"s":"ORAS5","k":"o","t":2002,"v":-2.93},{"s":"ORAS5","k":"o","t":2003,"v":-2.93},{"s":"ORAS5","k":"o","t":2004,"v":-2.87},{"s":"ORAS5","k":"o","t":2005,"v":-2.94},{"s":"ORAS5","k":"o","t":2006,"v":-3.04},{"s":"ORAS5","k":"o","t":2007,"v":-3.11},{"s":"ORAS5","k":"o","t":2008,"v":-3.05},{"s":"ORAS5","k":"o","t":2009,"v":-3.14},
{"s":"ORAS5","k":"o","t":2010,"v":-3.29},{"s":"ORAS5","k":"o","t":2011,"v":-3.21},{"s":"ORAS5","k":"o","t":2012,"v":-3.21},{"s":"ORAS5","k":"o","t":2013,"v":-3.18},{"s":"ORAS5","k":"o","t":2014,"v":-3.20},
{"s":"ORAS5/ERA5","k":"o","t":1958,"v":-2.26},{"s":"ORAS5/ERA5","k":"o","t":1959,"v":-2.18},
{"s":"ORAS5/ERA5","k":"o","t":1960,"v":-2.21},{"s":"ORAS5/ERA5","k":"o","t":1961,"v":-2.25},{"s":"ORAS5/ERA5","k":"o","t":1962,"v":-2.20},{"s":"ORAS5/ERA5","k":"o","t":1963,"v":-2.14},{"s":"ORAS5/ERA5","k":"o","t":1964,"v":-2.18},{"s":"ORAS5/ERA5","k":"o","t":1965,"v":-2.17},{"s":"ORAS5/ERA5","k":"o","t":1966,"v":-2.14},{"s":"ORAS5/ERA5","k":"o","t":1967,"v":-2.21},{"s":"ORAS5/ERA5","k":"o","t":1968,"v":-2.26},{"s":"ORAS5/ERA5","k":"o","t":1969,"v":-2.16},
{"s":"ORAS5/ERA5","k":"o","t":1970,"v":-2.16},{"s":"ORAS5/ERA5","k":"o","t":1971,"v":-2.29},{"s":"ORAS5/ERA5","k":"o","t":1972,"v":-2.39},{"s":"ORAS5/ERA5","k":"o","t":1973,"v":-2.33},{"s":"ORAS5/ERA5","k":"o","t":1974,"v":-2.26},{"s":"ORAS5/ERA5","k":"o","t":1975,"v":-2.28},{"s":"ORAS5/ERA5","k":"o","t":1976,"v":-2.31},{"s":"ORAS5/ERA5","k":"o","t":1977,"v":-2.32},{"s":"ORAS5/ERA5","k":"o","t":1978,"v":-2.36},{"s":"ORAS5/ERA5","k":"o","t":1979,"v":-2.38},
{"s":"ORAS5/ERA5","k":"o","t":1980,"v":-2.45},{"s":"ORAS5/ERA5","k":"o","t":1981,"v":-2.55},{"s":"ORAS5/ERA5","k":"o","t":1982,"v":-2.55},{"s":"ORAS5/ERA5","k":"o","t":1983,"v":-2.69},{"s":"ORAS5/ERA5","k":"o","t":1984,"v":-2.45},{"s":"ORAS5/ERA5","k":"o","t":1985,"v":-2.48},{"s":"ORAS5/ERA5","k":"o","t":1986,"v":-2.57},{"s":"ORAS5/ERA5","k":"o","t":1987,"v":-2.55},{"s":"ORAS5/ERA5","k":"o","t":1988,"v":-2.54},{"s":"ORAS5/ERA5","k":"o","t":1989,"v":-2.60},
{"s":"ORAS5/ERA5","k":"o","t":1990,"v":-2.51},{"s":"ORAS5/ERA5","k":"o","t":1991,"v":-2.54},{"s":"ORAS5/ERA5","k":"o","t":1992,"v":-2.58},{"s":"ORAS5/ERA5","k":"o","t":1993,"v":-2.48},{"s":"ORAS5/ERA5","k":"o","t":1994,"v":-2.54},{"s":"ORAS5/ERA5","k":"o","t":1995,"v":-2.55},{"s":"ORAS5/ERA5","k":"o","t":1996,"v":-2.52},{"s":"ORAS5/ERA5","k":"o","t":1997,"v":-2.58},{"s":"ORAS5/ERA5","k":"o","t":1998,"v":-2.73},{"s":"ORAS5/ERA5","k":"o","t":1999,"v":-2.45},
{"s":"ORAS5/ERA5","k":"o","t":2000,"v":-2.41},{"s":"ORAS5/ERA5","k":"o","t":2001,"v":-2.40},{"s":"ORAS5/ERA5","k":"o","t":2002,"v":-2.37},{"s":"ORAS5/ERA5","k":"o","t":2003,"v":-2.39},{"s":"ORAS5/ERA5","k":"o","t":2004,"v":-2.49},{"s":"ORAS5/ERA5","k":"o","t":2005,"v":-2.57},{"s":"ORAS5/ERA5","k":"o","t":2006,"v":-2.66},{"s":"ORAS5/ERA5","k":"o","t":2007,"v":-2.70},{"s":"ORAS5/ERA5","k":"o","t":2008,"v":-2.66},{"s":"ORAS5/ERA5","k":"o","t":2009,"v":-2.79},
{"s":"ORAS5/ERA5","k":"o","t":2010,"v":-2.88},{"s":"ORAS5/ERA5","k":"o","t":2011,"v":-2.78},{"s":"ORAS5/ERA5","k":"o","t":2012,"v":-2.78},{"s":"ORAS5/ERA5","k":"o","t":2013,"v":-2.80},{"s":"ORAS5/ERA5","k":"o","t":2014,"v":-2.85},
{"s":"ERA5","k":"f","t":1940,"v":-2.22},{"s":"ERA5","k":"f","t":2022,"v":-2.55},
{"s":"ORAS5","k":"f","t":1973,"v":-3.04},{"s":"ORAS5","k":"f","t":2014,"v":-3.07},
{"s":"ORAS5/ERA5","k":"f","t":1958,"v":-2.24},{"s":"ORAS5/ERA5","k":"f","t":2014,"v":-2.74}
],
"f": [
{"s":"ERA5","k":"o","t":1940,"v":5.31},{"s":"ERA5","k":"o","t":1941,"v":5.15},{"s":"ERA5","k":"o","t":1942,"v":4.82},{"s":"ERA5","k":"o","t":1943,"v":5.03},{"s":"ERA5","k":"o","t":1944,"v":5.12},{"s":"ERA5","k":"o","t":1945,"v":5.12},{"s":"ERA5","k":"o","t":1946,"v":5.15},{"s":"ERA5","k":"o","t":1947,"v":5.02},{"s":"ERA5","k":"o","t":1948,"v":4.90},{"s":"ERA5","k":"o","t":1949,"v":4.95},
{"s":"ERA5","k":"o","t":1950,"v":4.71},{"s":"ERA5","k":"o","t":1951,"v":4.96},{"s":"ERA5","k":"o","t":1952,"v":4.87},{"s":"ERA5","k":"o","t":1953,"v":4.99},{"s":"ERA5","k":"o","t":1954,"v":4.93},{"s":"ERA5","k":"o","t":1955,"v":4.94},{"s":"ERA5","k":"o","t":1956,"v":4.85},{"s":"ERA5","k":"o","t":1957,"v":4.92},{"s":"ERA5","k":"o","t":1958,"v":4.92},{"s":"ERA5","k":"o","t":1959,"v":4.92},
{"s":"ERA5","k":"o","t":1960,"v":4.88},{"s":"ERA5","k":"o","t":1961,"v":5.06},{"s":"ERA5","k":"o","t":1962,"v":4.88},{"s":"ERA5","k":"o","t":1963,"v":4.96},{"s":"ERA5","k":"o","t":1964,"v":4.93},{"s":"ERA5","k":"o","t":1965,"v":5.02},{"s":"ERA5","k":"o","t":1966,"v":5.03},{"s":"ERA5","k":"o","t":1967,"v":5.03},{"s":"ERA5","k":"o","t":1968,"v":4.95},{"s":"ERA5","k":"o","t":1969,"v":5.16},
{"s":"ERA5","k":"o","t":1970,"v":5.06},{"s":"ERA5","k":"o","t":1971,"v":4.88},{"s":"ERA5","k":"o","t":1972,"v":4.93},{"s":"ERA5","k":"o","t":1973,"v":5.11},{"s":"ERA5","k":"o","t":1974,"v":4.96},{"s":"ERA5","k":"o","t":1975,"v":4.97},{"s":"ERA5","k":"o","t":1976,"v":4.92},{"s":"ERA5","k":"o","t":1977,"v":5.06},{"s":"ERA5","k":"o","t":1978,"v":4.95},{"s":"ERA5","k":"o","t":1979,"v":4.94},
{"s":"ERA5","k":"o","t":1980,"v":5.15},{"s":"ERA5","k":"o","t":1981,"v":5.10},{"s":"ERA5","k":"o","t":1982,"v":5.03},{"s":"ERA5","k":"o","t":1983,"v":5.22},{"s":"ERA5","k":"o","t":1984,"v":4.90},{"s":"ERA5","k":"o","t":1985,"v":4.84},{"s":"ERA5","k":"o","t":1986,"v":5.00},{"s":"ERA5","k":"o","t":1987,"v":5.19},{"s":"ERA5","k":"o","t":1988,"v":5.15},{"s":"ERA5","k":"o","t":1989,"v":4.95},
{"s":"ERA5","k":"o","t":1990,"v":5.03},{"s":"ERA5","k":"o","t":1991,"v":5.05},{"s":"ERA5","k":"o","t":1992,"v":5.03},{"s":"ERA5","k":"o","t":1993,"v":5.00},{"s":"ERA5","k":"o","t":1994,"v":5.03},{"s":"ERA5","k":"o","t":1995,"v":5.17},{"s":"ERA5","k":"o","t":1996,"v":5.03},{"s":"ERA5","k":"o","t":1997,"v":5.22},{"s":"ERA5","k":"o","t":1998,"v":5.61},{"s":"ERA5","k":"o","t":1999,"v":5.23},
{"s":"ERA5","k":"o","t":2000,"v":5.30},{"s":"ERA5","k":"o","t":2001,"v":5.30},{"s":"ERA5","k":"o","t":2002,"v":5.47},{"s":"ERA5","k":"o","t":2003,"v":5.47},{"s":"ERA5","k":"o","t":2004,"v":5.40},{"s":"ERA5","k":"o","t":2005,"v":5.44},{"s":"ERA5","k":"o","t":2006,"v":5.50},{"s":"ERA5","k":"o","t":2007,"v":5.55},{"s":"ERA5","k":"o","t":2008,"v":5.35},{"s":"ERA5","k":"o","t":2009,"v":5.40},
{"s":"ERA5","k":"o","t":2010,"v":5.62},{"s":"ERA5","k":"o","t":2011,"v":5.45},{"s":"ERA5","k":"o","t":2012,"v":5.40},{"s":"ERA5","k":"o","t":2013,"v":5.47},{"s":"ERA5","k":"o","t":2014,"v":5.57},{"s":"ERA5","k":"o","t":2015,"v":5.55},{"s":"ERA5","k":"o","t":2016,"v":5.60},{"s":"ERA5","k":"o","t":2017,"v":5.52},{"s":"ERA5","k":"o","t":2018,"v":5.45},{"s":"ERA5","k":"o","t":2019,"v":5.48},
{"s":"ERA5","k":"o","t":2020,"v":5.52},{"s":"ERA5","k":"o","t":2021,"v":5.47},{"s":"ERA5","k":"o","t":2022,"v":5.42},
{"s":"ORAS5","k":"o","t":1973,"v":5.86},{"s":"ORAS5","k":"o","t":1974,"v":5.55},{"s":"ORAS5","k":"o","t":1975,"v":5.46},{"s":"ORAS5","k":"o","t":1976,"v":5.62},{"s":"ORAS5","k":"o","t":1977,"v":5.72},{"s":"ORAS5","k":"o","t":1978,"v":5.72},{"s":"ORAS5","k":"o","t":1979,"v":5.66},
{"s":"ORAS5","k":"o","t":1980,"v":5.97},{"s":"ORAS5","k":"o","t":1981,"v":5.89},{"s":"ORAS5","k":"o","t":1982,"v":5.92},{"s":"ORAS5","k":"o","t":1983,"v":6.21},{"s":"ORAS5","k":"o","t":1984,"v":5.73},{"s":"ORAS5","k":"o","t":1985,"v":5.64},{"s":"ORAS5","k":"o","t":1986,"v":5.75},{"s":"ORAS5","k":"o","t":1987,"v":5.88},{"s":"ORAS5","k":"o","t":1988,"v":5.85},{"s":"ORAS5","k":"o","t":1989,"v":5.72},
{"s":"ORAS5","k":"o","t":1990,"v":5.79},{"s":"ORAS5","k":"o","t":1991,"v":5.89},{"s":"ORAS5","k":"o","t":1992,"v":5.73},{"s":"ORAS5","k":"o","t":1993,"v":5.72},{"s":"ORAS5","k":"o","t":1994,"v":5.73},{"s":"ORAS5","k":"o","t":1995,"v":5.73},{"s":"ORAS5","k":"o","t":1996,"v":5.64},{"s":"ORAS5","k":"o","t":1997,"v":5.70},{"s":"ORAS5","k":"o","t":1998,"v":6.07},{"s":"ORAS5","k":"o","t":1999,"v":5.60},
{"s":"ORAS5","k":"o","t":2000,"v":5.56},{"s":"ORAS5","k":"o","t":2001,"v":5.62},{"s":"ORAS5","k":"o","t":2002,"v":5.70},{"s":"ORAS5","k":"o","t":2003,"v":5.68},{"s":"ORAS5","k":"o","t":2004,"v":5.62},{"s":"ORAS5","k":"o","t":2005,"v":5.69},{"s":"ORAS5","k":"o","t":2006,"v":5.80},{"s":"ORAS5","k":"o","t":2007,"v":5.95},{"s":"ORAS5","k":"o","t":2008,"v":5.82},{"s":"ORAS5","k":"o","t":2009,"v":5.94},
{"s":"ORAS5","k":"o","t":2010,"v":6.27},{"s":"ORAS5","k":"o","t":2011,"v":6.10},{"s":"ORAS5","k":"o","t":2012,"v":6.10},{"s":"ORAS5","k":"o","t":2013,"v":6.13},{"s":"ORAS5","k":"o","t":2014,"v":6.17},
{"s":"ORAS5/ERA5","k":"o","t":1958,"v":4.59},{"s":"ORAS5/ERA5","k":"o","t":1959,"v":4.51},
{"s":"ORAS5/ERA5","k":"o","t":1960,"v":4.45},{"s":"ORAS5/ERA5","k":"o","t":1961,"v":4.51},{"s":"ORAS5/ERA5","k":"o","t":1962,"v":4.45},{"s":"ORAS5/ERA5","k":"o","t":1963,"v":4.42},{"s":"ORAS5/ERA5","k":"o","t":1964,"v":4.42},{"s":"ORAS5/ERA5","k":"o","t":1965,"v":4.43},{"s":"ORAS5/ERA5","k":"o","t":1966,"v":4.45},{"s":"ORAS5/ERA5","k":"o","t":1967,"v":4.38},{"s":"ORAS5/ERA5","k":"o","t":1968,"v":4.48},{"s":"ORAS5/ERA5","k":"o","t":1969,"v":4.61},
{"s":"ORAS5/ERA5","k":"o","t":1970,"v":4.60},{"s":"ORAS5/ERA5","k":"o","t":1971,"v":4.41},{"s":"ORAS5/ERA5","k":"o","t":1972,"v":4.41},{"s":"ORAS5/ERA5","k":"o","t":1973,"v":4.82},{"s":"ORAS5/ERA5","k":"o","t":1974,"v":4.62},{"s":"ORAS5/ERA5","k":"o","t":1975,"v":4.60},{"s":"ORAS5/ERA5","k":"o","t":1976,"v":4.58},{"s":"ORAS5/ERA5","k":"o","t":1977,"v":4.68},{"s":"ORAS5/ERA5","k":"o","t":1978,"v":4.73},{"s":"ORAS5/ERA5","k":"o","t":1979,"v":4.85},
{"s":"ORAS5/ERA5","k":"o","t":1980,"v":5.15},{"s":"ORAS5/ERA5","k":"o","t":1981,"v":5.10},{"s":"ORAS5/ERA5","k":"o","t":1982,"v":5.08},{"s":"ORAS5/ERA5","k":"o","t":1983,"v":5.40},{"s":"ORAS5/ERA5","k":"o","t":1984,"v":5.00},{"s":"ORAS5/ERA5","k":"o","t":1985,"v":4.88},{"s":"ORAS5/ERA5","k":"o","t":1986,"v":4.97},{"s":"ORAS5/ERA5","k":"o","t":1987,"v":5.10},{"s":"ORAS5/ERA5","k":"o","t":1988,"v":5.09},{"s":"ORAS5/ERA5","k":"o","t":1989,"v":4.92},
{"s":"ORAS5/ERA5","k":"o","t":1990,"v":4.97},{"s":"ORAS5/ERA5","k":"o","t":1991,"v":5.03},{"s":"ORAS5/ERA5","k":"o","t":1992,"v":4.90},{"s":"ORAS5/ERA5","k":"o","t":1993,"v":4.95},{"s":"ORAS5/ERA5","k":"o","t":1994,"v":5.00},{"s":"ORAS5/ERA5","k":"o","t":1995,"v":5.01},{"s":"ORAS5/ERA5","k":"o","t":1996,"v":4.90},{"s":"ORAS5/ERA5","k":"o","t":1997,"v":4.93},{"s":"ORAS5/ERA5","k":"o","t":1998,"v":5.34},{"s":"ORAS5/ERA5","k":"o","t":1999,"v":4.90},
{"s":"ORAS5/ERA5","k":"o","t":2000,"v":4.86},{"s":"ORAS5/ERA5","k":"o","t":2001,"v":4.90},{"s":"ORAS5/ERA5","k":"o","t":2002,"v":4.97},{"s":"ORAS5/ERA5","k":"o","t":2003,"v":4.95},{"s":"ORAS5/ERA5","k":"o","t":2004,"v":4.92},{"s":"ORAS5/ERA5","k":"o","t":2005,"v":4.96},{"s":"ORAS5/ERA5","k":"o","t":2006,"v":5.06},{"s":"ORAS5/ERA5","k":"o","t":2007,"v":5.24},{"s":"ORAS5/ERA5","k":"o","t":2008,"v":5.10},{"s":"ORAS5/ERA5","k":"o","t":2009,"v":5.24},
{"s":"ORAS5/ERA5","k":"o","t":2010,"v":5.52},{"s":"ORAS5/ERA5","k":"o","t":2011,"v":5.33},{"s":"ORAS5/ERA5","k":"o","t":2012,"v":5.30},{"s":"ORAS5/ERA5","k":"o","t":2013,"v":5.38},{"s":"ORAS5/ERA5","k":"o","t":2014,"v":5.42},
{"s":"ERA5","k":"f","t":1940,"v":4.84},{"s":"ERA5","k":"f","t":2022,"v":5.45},
{"s":"ORAS5","k":"f","t":1973,"v":5.68},{"s":"ORAS5","k":"f","t":2014,"v":5.94},
{"s":"ORAS5/ERA5","k":"f","t":1958,"v":4.45},{"s":"ORAS5/ERA5","k":"f","t":2014,"v":5.33}
]
},
"spacing": 18,
"resolve": {"scale": {"color": "independent"}, "legend": {"color": "independent"}},
"vconcat": [
{"spacing": 31, "resolve": {"scale": {"color": "independent"}, "legend": {"color": "independent"}},
 "hconcat": [
  {"width": 576, "height": 181, "title": "a) Global mean SSS where E>P", "data": {"name": "a"},
   "mark": {"type": "line"},
   "encoding": {
     "x": {"field": "t", "type": "quantitative", "scale": {"domain": [1935.95, 2025.05], "nice": false, "zero": false}, "axis": {"values": [1940,1950,1960,1970,1980,1990,2000,2010,2020], "labels": false, "title": null}},
     "y": {"field": "v", "type": "quantitative", "scale": {"domain": [34.94, 35.474], "nice": false, "zero": false}, "axis": {"values": [35.0,35.2,35.4], "format": ".1f", "title": "PSU", "labelPadding": 10, "minExtent": 45, "maxExtent": 45, "titlePadding": 9}},
     "color": {"field": "s", "type": "nominal", "scale": {"domain": ["IAP","ORAS5","MULTI"], "range": ["#4169e1","#008b8b","#9932cc"]}, "legend": {"title": null}},
     "strokeDash": {"field": "k", "type": "nominal", "scale": {"domain": ["o","f"], "range": [[1,0],[9,3.5]]}, "legend": null},
     "strokeWidth": {"field": "k", "type": "ordinal", "scale": {"domain": ["o","f"], "range": [1.8,2.3]}, "legend": null}
   }},
  {"width": 575, "height": 181, "title": "d) Global mean E-P where E>P", "data": {"name": "d"},
   "mark": {"type": "line"},
   "encoding": {
     "x": {"field": "t", "type": "quantitative", "scale": {"domain": [1935.9, 2026.1], "nice": false, "zero": false}, "axis": {"values": [1940,1960,1980,2000,2020], "labels": false, "title": null}},
     "y": {"field": "v", "type": "quantitative", "scale": {"domain": [2.142, 3.024], "nice": false, "zero": false}, "axis": {"values": [2.2,2.4,2.6,2.8,3.0], "format": ".1f", "title": "mm/day", "labelPadding": 5, "minExtent": 38, "maxExtent": 38, "titlePadding": 6}},
     "color": {"field": "s", "type": "nominal", "scale": {"domain": ["ERA5","ORAS5","ORAS5/ERA5"], "range": ["#4169e1","#008b8b","#008000"]}, "legend": null},
     "strokeDash": {"field": "k", "type": "nominal", "scale": {"domain": ["o","f"], "range": [[1,0],[9,3.5]]}, "legend": null},
     "strokeWidth": {"field": "k", "type": "ordinal", "scale": {"domain": ["o","f"], "range": [1.8,2.3]}, "legend": null}
   }}
 ]},
{"spacing": 31, "resolve": {"scale": {"color": "independent"}, "legend": {"color": "independent"}},
 "hconcat": [
  {"width": 576, "height": 181, "title": "b) Global mean SSS where E<P", "data": {"name": "b"},
   "mark": {"type": "line"},
   "encoding": {
     "x": {"field": "t", "type": "quantitative", "scale": {"domain": [1935.95, 2025.05], "nice": false, "zero": false}, "axis": {"values": [1940,1950,1960,1970,1980,1990,2000,2010,2020], "labels": false, "title": null}},
     "y": {"field": "v", "type": "quantitative", "scale": {"domain": [33.815, 34.256], "nice": false, "zero": false}, "axis": {"values": [33.9,34.0,34.1,34.2], "format": ".1f", "title": "PSU", "labelPadding": 10, "minExtent": 45, "maxExtent": 45, "titlePadding": 9}},
     "color": {"field": "s", "type": "nominal", "scale": {"domain": ["IAP","ORAS5","MULTI"], "range": ["#4169e1","#008b8b","#9932cc"]}, "legend": null},
     "strokeDash": {"field": "k", "type": "nominal", "scale": {"domain": ["o","f"], "range": [[1,0],[9,3.5]]}, "legend": null},
     "strokeWidth": {"field": "k", "type": "ordinal", "scale": {"domain": ["o","f"], "range": [1.8,2.3]}, "legend": null}
   }},
  {"width": 575, "height": 181, "title": "e) Global mean E-P where E<P", "data": {"name": "e"},
   "mark": {"type": "line"},
   "encoding": {
     "x": {"field": "t", "type": "quantitative", "scale": {"domain": [1935.9, 2026.1], "nice": false, "zero": false}, "axis": {"values": [1940,1960,1980,2000,2020], "labels": false, "title": null}},
     "y": {"field": "v", "type": "quantitative", "scale": {"domain": [-3.369, -2.088], "nice": false, "zero": false}, "axis": {"values": [-3.0,-2.5], "labelExpr": "replace(format(datum.value, '.1f'), '\u2212', '-')", "title": "mm/day", "labelPadding": 5, "minExtent": 38, "maxExtent": 38, "titlePadding": 6}},
     "color": {"field": "s", "type": "nominal", "scale": {"domain": ["ERA5","ORAS5","ORAS5/ERA5"], "range": ["#4169e1","#008b8b","#008000"]}, "legend": {"title": null}},
     "strokeDash": {"field": "k", "type": "nominal", "scale": {"domain": ["o","f"], "range": [[1,0],[9,3.5]]}, "legend": null},
     "strokeWidth": {"field": "k", "type": "ordinal", "scale": {"domain": ["o","f"], "range": [1.8,2.3]}, "legend": null}
   }}
 ]},
{"spacing": 31, "resolve": {"scale": {"color": "independent"}, "legend": {"color": "independent"}},
 "hconcat": [
  {"width": 576, "height": 179, "title": "c) Global SSS Contrast (a-b)", "data": {"name": "c"},
   "mark": {"type": "line"},
   "encoding": {
     "x": {"field": "t", "type": "quantitative", "scale": {"domain": [1935.95, 2025.05], "nice": false, "zero": false}, "axis": {"values": [1940,1950,1960,1970,1980,1990,2000,2010,2020], "format": "d", "title": "years", "labelPadding": 6, "titlePadding": 2}},
     "y": {"field": "v", "type": "quantitative", "scale": {"domain": [0.95, 1.379], "nice": false, "zero": false}, "axis": {"values": [1.0,1.1,1.2,1.3], "format": ".1f", "title": "PSU", "labelPadding": 10, "minExtent": 45, "maxExtent": 45, "titlePadding": 9}},
     "color": {"field": "s", "type": "nominal", "scale": {"domain": ["IAP","ORAS5","MULTI"], "range": ["#4169e1","#008b8b","#9932cc"]}, "legend": null},
     "strokeDash": {"field": "k", "type": "nominal", "scale": {"domain": ["o","f"], "range": [[1,0],[9,3.5]]}, "legend": null},
     "strokeWidth": {"field": "k", "type": "ordinal", "scale": {"domain": ["o","f"], "range": [1.8,2.3]}, "legend": null}
   }},
  {"width": 575, "height": 179, "title": "f) Global E-P Contrast (a-b)", "data": {"name": "f"},
   "mark": {"type": "line"},
   "encoding": {
     "x": {"field": "t", "type": "quantitative", "scale": {"domain": [1935.9, 2026.1], "nice": false, "zero": false}, "axis": {"values": [1940,1960,1980,2000,2020], "format": "d", "title": "years", "labelPadding": 6, "titlePadding": 2}},
     "y": {"field": "v", "type": "quantitative", "scale": {"domain": [4.28, 6.358], "nice": false, "zero": false}, "axis": {"values": [4.5,5.0,5.5,6.0], "format": ".1f", "title": "mm/day", "labelPadding": 5, "minExtent": 38, "maxExtent": 38, "titlePadding": 6}},
     "color": {"field": "s", "type": "nominal", "scale": {"domain": ["ERA5","ORAS5","ORAS5/ERA5"], "range": ["#4169e1","#008b8b","#008000"]}, "legend": null},
     "strokeDash": {"field": "k", "type": "nominal", "scale": {"domain": ["o","f"], "range": [[1,0],[9,3.5]]}, "legend": null},
     "strokeWidth": {"field": "k", "type": "ordinal", "scale": {"domain": ["o","f"], "range": [1.8,2.3]}, "legend": null}
   }}
 ]}
],
"config": {
  "font": "DejaVu Sans",
  "view": {"stroke": "#000000", "strokeWidth": 1},
  "axis": {"grid": false, "domain": false, "tickColor": "#000000", "tickSize": 5, "labelFont": "DejaVu Sans", "labelColor": "#222222", "titleFont": "DejaVu Sans", "titleFontSize": 15, "titleFontWeight": "normal", "titleColor": "#222222"},
  "axisX": {"labelFontSize": 15},
  "axisY": {"labelFontSize": 14},
  "title": {"font": "DejaVu Sans", "fontSize": 19, "fontWeight": "normal", "color": "#222222", "offset": 9, "anchor": "middle", "frame": "group"},
  "legend": {"orient": "bottom-left", "offset": 8, "padding": 2, "fillColor": "#ffffff", "strokeColor": "#cccccc", "cornerRadius": 3, "symbolType": "stroke", "symbolSize": 1089, "symbolStrokeWidth": 2, "rowPadding": -6, "labelFont": "DejaVu Sans", "labelFontSize": 14.5, "labelColor": "#222222", "labelOffset": 11}
}
}
